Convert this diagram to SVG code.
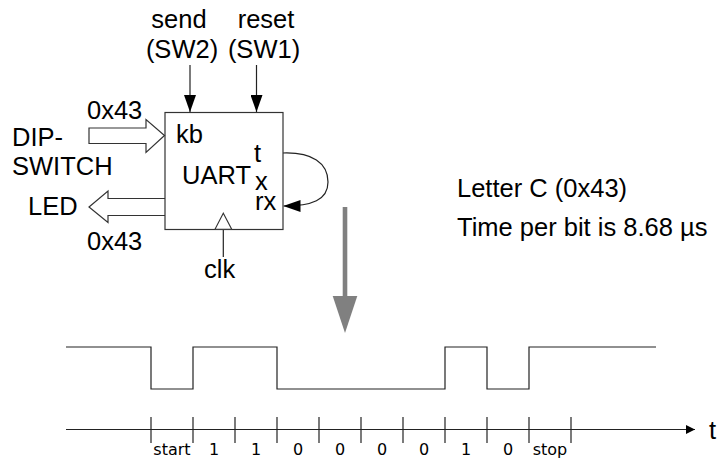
<svg xmlns="http://www.w3.org/2000/svg" width="719" height="459" viewBox="0 0 719 459">
  <style>
    .lbl { font-family: "Liberation Sans", Arial, sans-serif; font-size: 25.5px; fill: #000; }
    .bit { font-family: "DejaVu Sans", sans-serif; font-size: 16px; fill: #000; text-anchor: middle; }
    .mid { text-anchor: middle; }
    .wire { stroke: #222; stroke-width: 1.2; fill: none; }
    .outline { stroke: #333; stroke-width: 1.2; fill: #fff; }
    .tick { stroke: #222; stroke-width: 1.2; }
  </style>
  <defs>
    <marker id="arr" markerUnits="userSpaceOnUse" markerWidth="17" markerHeight="12" refX="17" refY="6" orient="auto">
      <path d="M0,0 L17,6 L0,12 Z" fill="#000"/>
    </marker>
    <marker id="axisArr" markerUnits="userSpaceOnUse" markerWidth="9" markerHeight="9" refX="9" refY="4.5" orient="auto">
      <path d="M0,0 L9,4.5 L0,9 Z" fill="#000"/>
    </marker>
  </defs>

  <rect width="719" height="459" fill="#fff"/>

  <!-- connectors -->
  <g id="connectors">
    <line class="wire" x1="190" y1="65" x2="190" y2="112" marker-end="url(#arr)"/>
    <line class="wire" x1="256.5" y1="65" x2="256.5" y2="112" marker-end="url(#arr)"/>
    <!-- DIP-switch bus into kb -->
    <path class="outline" d="M89,128 L146,128 L146,119.5 L164.5,135.5 L146,152.5 L146,143.5 L89,143.5 Z"/>
    <!-- bus out to LED -->
    <path class="outline" d="M165,198.5 L108,198.5 L108,191 L89,207 L108,222.5 L108,215.5 L165,215.5"/>
    <!-- tx looped back to rx -->
    <path class="wire" d="M283,153 C312,152 328,163 328,182 C328,200 312,206 283.5,206" marker-end="url(#arr)"/>
    <!-- clock input -->
    <line class="wire" x1="223.3" y1="229.3" x2="223.3" y2="257"/>
    <!-- gray pointer down to the waveform -->
    <rect x="342.7" y="207" width="4.6" height="90" fill="#808080"/>
    <polygon points="332.7,296 357.3,296 345,333" fill="#808080"/>
  </g>

  <!-- UART block -->
  <g id="uart">
    <rect x="165" y="112.5" width="118" height="117" fill="none" stroke="#333" stroke-width="1.2"/>
    <polygon points="215,229.3 223.3,213.3 231.7,229.3" fill="#fff" stroke="#333" stroke-width="1.1"/>
    <text class="lbl" x="176" y="143">kb</text>
    <text class="lbl" x="182" y="184">UART</text>
    <text class="lbl" x="254" y="162">t</text>
    <text class="lbl" x="255" y="190">x</text>
    <text class="lbl" x="255" y="210">rx</text>
  </g>

  <g id="send">
    <text class="lbl mid" x="179" y="28">send</text>
    <text class="lbl mid" x="182" y="58">(SW2)</text>
  </g>
  <g id="reset">
    <text class="lbl mid" x="266" y="28">reset</text>
    <text class="lbl mid" x="264" y="58">(SW1)</text>
  </g>
  <g id="dipswitch">
    <text class="lbl" x="87" y="119">0x43</text>
    <text class="lbl" x="12" y="146">DIP-</text>
    <text class="lbl" x="12" y="175">SWITCH</text>
  </g>
  <g id="led">
    <text class="lbl" x="28" y="215">LED</text>
    <text class="lbl" x="87" y="250">0x43</text>
  </g>
  <g id="clk">
    <text class="lbl" x="204" y="278">clk</text>
  </g>
  <g id="notes">
    <text class="lbl" x="457" y="197">Letter C (0x43)</text>
    <text class="lbl" x="457" y="236">Time per bit is 8.68 µs</text>
  </g>

  <!-- serial waveform for 0x43, LSB first -->
  <g id="waveform">
    <polyline class="wire" points="66,347 151,347 151,389 193,389 193,347 277,347 277,389 445,389 445,347 487,347 487,389 529,389 529,347 656,347"/>
  </g>

  <!-- time axis with bit slots -->
  <g id="timeaxis">
    <line class="wire" x1="66" y1="429.5" x2="695" y2="429.5" marker-end="url(#axisArr)"/>
    <g class="tick">
      <line x1="151" y1="417" x2="151" y2="443"/>
      <line x1="193" y1="417" x2="193" y2="443"/>
      <line x1="235" y1="417" x2="235" y2="443"/>
      <line x1="277" y1="417" x2="277" y2="443"/>
      <line x1="319" y1="417" x2="319" y2="443"/>
      <line x1="361" y1="417" x2="361" y2="443"/>
      <line x1="403" y1="417" x2="403" y2="443"/>
      <line x1="445" y1="417" x2="445" y2="443"/>
      <line x1="487" y1="417" x2="487" y2="443"/>
      <line x1="529" y1="417" x2="529" y2="443"/>
      <line x1="571" y1="417" x2="571" y2="443"/>
    </g>
    <text class="bit" x="172" y="455">start</text>
    <text class="bit" x="214" y="455">1</text>
    <text class="bit" x="256" y="455">1</text>
    <text class="bit" x="298" y="455">0</text>
    <text class="bit" x="340" y="455">0</text>
    <text class="bit" x="382" y="455">0</text>
    <text class="bit" x="424" y="455">0</text>
    <text class="bit" x="466" y="455">1</text>
    <text class="bit" x="508" y="455">0</text>
    <text class="bit" x="550" y="455">stop</text>
    <text class="lbl" x="709" y="439">t</text>
  </g>
</svg>
